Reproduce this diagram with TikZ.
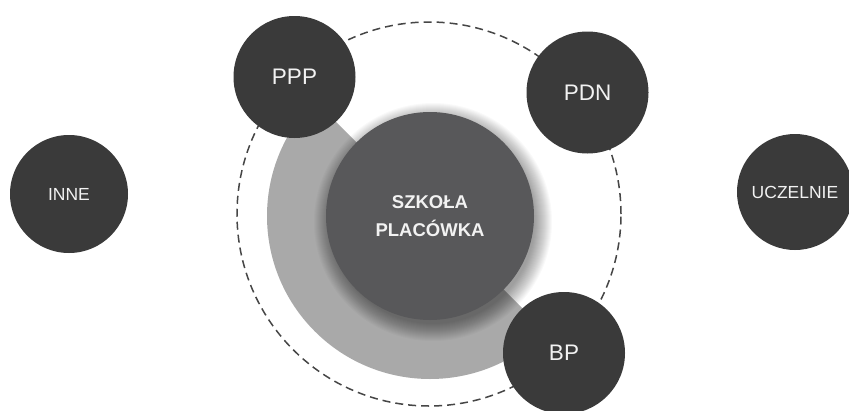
\documentclass[tikz,border=0pt]{standalone}
\usepackage{fontspec}
\setmainfont{Liberation Sans}
\definecolor{darkc}{HTML}{3A3A3A}
\definecolor{midc}{HTML}{58585A}
\definecolor{bandc}{HTML}{A9A9A9}
\definecolor{dashc}{HTML}{464646}
\definecolor{txtc}{HTML}{F2F2F2}
\tikzset{
  outer/.style={circle, fill=darkc, draw=none, inner sep=0pt, minimum size=122pt,
    text=txtc, font=\fontsize{22.5}{24}\selectfont},
  outersmall/.style={outer, font=\fontsize{17.5}{20}\selectfont},
  core/.style={circle, fill=midc, draw=none, inner sep=0pt, minimum size=208pt,
    text=txtc, align=center, font=\bfseries\fontsize{18.5}{28}\selectfont},
  ring/.style={draw=dashc, line width=1.5pt, dash pattern=on 8pt off 5pt}
}
\begin{document}
\begin{tikzpicture}[x=1pt,y=1pt]
\useasboundingbox (0,0) rectangle (849,-410);
\fill[white] (0,0) rectangle (849,-410);
% dashed orbit
\draw[ring] (429,-214) circle[radius=192];
% grey band
\fill[bandc] (430,-216) -- ++(135:163) arc[start angle=135, end angle=315, radius=163] -- cycle;
% soft shadow of the core
\foreach \i in {1,...,18} {
  \fill[black, opacity=0.022] (433,-222) circle[radius=101+\i];
}
% core
\node[core] (core) at (430,-216) {SZKOŁA\\PLACÓWKA};
% satellites
\node[outer] (ppp) at (294.5,-77) {PPP};
\node[outer] (pdn) at (587.5,-92.5) {PDN};
\node[outer] (bp) at (564,-353) {BP};
\node[outersmall, minimum size=118pt] (inne) at (69,-194) {INNE};
\node[outersmall, minimum size=116pt] (ucz) at (795,-192) {UCZELNIE};
\end{tikzpicture}
\end{document}
